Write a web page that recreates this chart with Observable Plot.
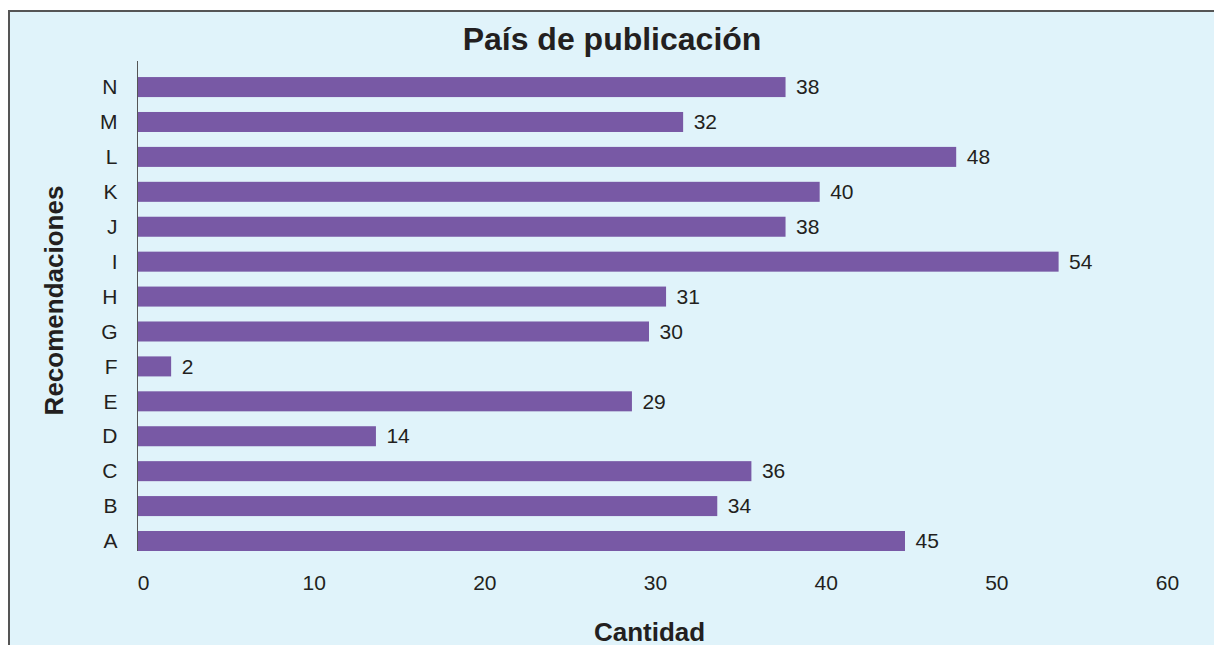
<!DOCTYPE html>
<html>
<head>
<meta charset="utf-8">
<script src="https://cdn.jsdelivr.net/npm/d3@7"></script>
<script src="https://cdn.jsdelivr.net/npm/@observablehq/plot@0.6"></script>
<style>
  html, body { margin: 0; padding: 0; background: #ffffff; }
  body { width: 1214px; height: 645px; position: relative; overflow: hidden; font-family: "Liberation Sans", Arial, sans-serif; }
  #panel { position: absolute; left: 8px; top: 10px; width: 1206px; height: 635px; box-sizing: border-box;
           background: #e0f3fa; border-left: 2px solid #555555; border-top: 2px solid #555555; }
  #title { position: absolute; left: 10px; right: 0; top: 23px; text-align: center; font-size: 32px; line-height: 32px;
           font-weight: bold; color: #231f20; }
</style>
</head>
<body>
<div id="panel"></div>
<div id="title">País de publicación</div>
<div id="chart"></div>
<script>
const categories = ["A", "B", "C", "D", "E", "F", "G", "H", "I", "J", "K", "L", "M", "N"];
const values = [45, 34, 36, 14, 29, 2, 30, 31, 54, 38, 40, 48, 32, 38];
const xTicks = [0, 10, 20, 30, 40, 50, 60];
const xLabel = "Cantidad";
const yLabel = "Recomendaciones";

const data = categories.map((c, i) => ({cat: c, value: values[i]}));
const ink = "#231f20";

const chart = Plot.plot({
  width: 1214,
  height: 645,
  marginLeft: 137,
  marginRight: 53,
  marginTop: 61,
  marginBottom: 94,
  style: {
    background: "transparent",
    fontFamily: '"Liberation Sans", Arial, sans-serif',
    color: ink,
    position: "absolute",
    left: "0px",
    top: "0px",
    overflow: "visible"
  },
  x: {domain: [0, 60]},
  y: {domain: categories.slice().reverse(), paddingInner: 0.427, paddingOuter: 0.23, align: 1, round: false},
  marks: [
    Plot.barX(data, {x: "value", y: "cat", fill: "#7859a5"}),
    Plot.ruleX([0], {stroke: "#555555", strokeWidth: 1}),
    Plot.axisX({ticks: xTicks, tickSize: 0, tickPadding: 24, dx: 6, fontSize: 21, label: null, fill: ink}),
    Plot.axisY({tickSize: 0, tickPadding: 20, fontSize: 21, label: null, fill: ink}),
    Plot.text(data, {x: "value", y: "cat", text: d => String(d.value), dx: 10, textAnchor: "start", fontSize: 21, fill: ink}),
    Plot.text([xLabel], {text: d => d, frameAnchor: "bottom", dy: 81, textAnchor: "middle", lineAnchor: "middle", fontSize: 26, fontWeight: "bold", fill: ink}),
    Plot.text([yLabel], {text: d => d, frameAnchor: "left", dx: -83, dy: -6, rotate: -90, textAnchor: "middle", lineAnchor: "middle", fontSize: 26, fontWeight: "bold", fill: ink})
  ]
});
document.getElementById("chart").appendChild(chart);
</script>
</body>
</html>
